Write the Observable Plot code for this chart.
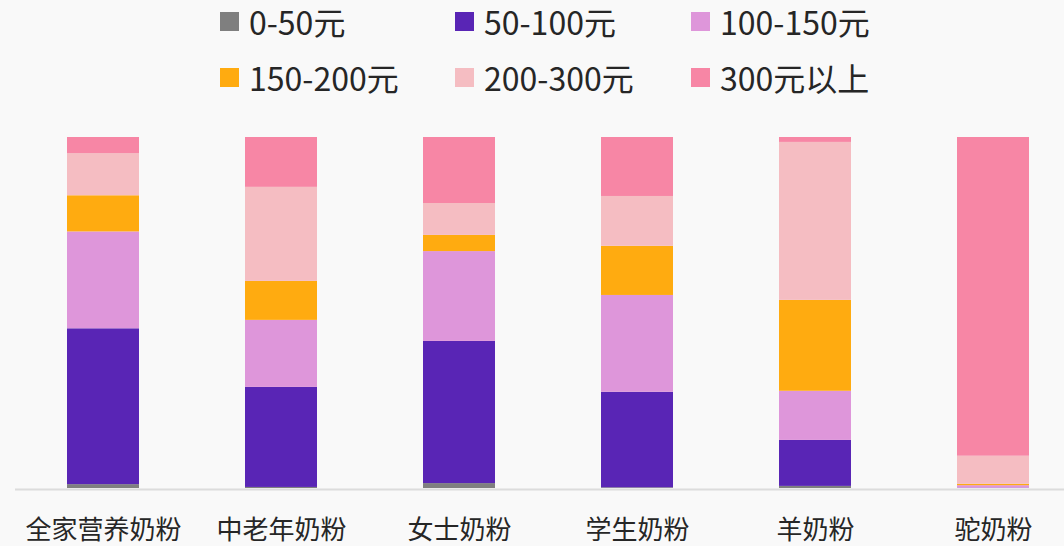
<!DOCTYPE html>
<html>
<head>
<meta charset="utf-8">
<script src="https://cdn.jsdelivr.net/npm/d3@7"></script>
<script src="https://cdn.jsdelivr.net/npm/@observablehq/plot@0.6"></script>
<style>
  html, body { margin: 0; padding: 0; background: #f9f9f9; }
  #wrap { width: 1064px; height: 546px; background: #f9f9f9; font-family: "Noto Sans CJK SC", "Noto Sans", sans-serif; color: #262626; }
  #legend { position: relative; width: 1064px; height: 110px; }
  .item { position: absolute; display: flex; align-items: center; height: 40px; font-size: 32px; white-space: nowrap; }
  .sw { width: 19px; height: 19px; margin-right: 10px; flex: none; }
  svg { display: block; }
</style>
</head>
<body>
<div id="wrap">
  <div id="legend"></div>
  <div id="chart"></div>
</div>
<script>
const categories = ["全家营养奶粉", "中老年奶粉", "女士奶粉", "学生奶粉", "羊奶粉", "驼奶粉"];
const series = ["0-50元", "50-100元", "100-150元", "150-200元", "200-300元", "300元以上"];
const colors = ["#7f7f7f", "#5925b5", "#de96da", "#ffab10", "#f5bdc2", "#f786a5"];

const v0to50    = [1.1, 0.3, 1.4, 0.2, 0.6, 0.0];
const v50to100  = [44.4, 28.5, 40.5, 27.2, 13.1, 0.1];
const v100to150 = [27.6, 19.1, 25.6, 27.6, 14.0, 0.7];
const v150to200 = [10.3, 11.1, 4.6, 14.0, 25.9, 0.4];
const v200to300 = [12.0, 26.8, 9.1, 14.2, 45.0, 8.0];
const v300plus  = [4.6, 14.2, 18.8, 16.8, 1.4, 90.8];

const seriesValues = [v0to50, v50to100, v100to150, v150to200, v200to300, v300plus];
const data = [];
series.forEach((s, i) => {
  categories.forEach((c, j) => data.push({cat: c, series: s, value: seriesValues[i][j]}));
});

// Legend (HTML, above the SVG)
const legendPos = [[220, 21], [455, 21], [691, 21], [220, 77], [455, 77], [691, 77]];
const legend = document.getElementById("legend");
series.forEach((s, i) => {
  const it = document.createElement("div");
  it.className = "item";
  it.style.left = legendPos[i][0] + "px";
  it.style.top = (legendPos[i][1] - 20) + "px";
  const sw = document.createElement("span");
  sw.className = "sw";
  sw.style.background = colors[i];
  const t = document.createElement("span");
  t.textContent = s;
  it.appendChild(sw);
  it.appendChild(t);
  legend.appendChild(it);
});

const chart = Plot.plot({
  width: 1064,
  height: 436,
  marginTop: 27,
  marginBottom: 58,
  marginLeft: 15,
  marginRight: 0,
  style: {background: "#f9f9f9", fontFamily: "'Noto Sans CJK SC', sans-serif", color: "#262626"},
  x: {domain: categories, range: [15, 1081], paddingInner: 0.596, paddingOuter: 0.292, label: null},
  y: {domain: [0, 1], axis: null},
  color: {domain: series, range: colors},
  marks: [
    Plot.ruleY([0], {stroke: "#dcdcdc", strokeWidth: 2, dy: 1}),
    Plot.barY(data, Plot.stackY({x: "cat", y: "value", fill: "series", order: series, offset: "normalize"})),
    Plot.axisX({tickSize: 0, tickPadding: 32, fontSize: 26, label: null, fill: "#262626"})
  ]
});
document.getElementById("chart").appendChild(chart);
</script>
</body>
</html>
